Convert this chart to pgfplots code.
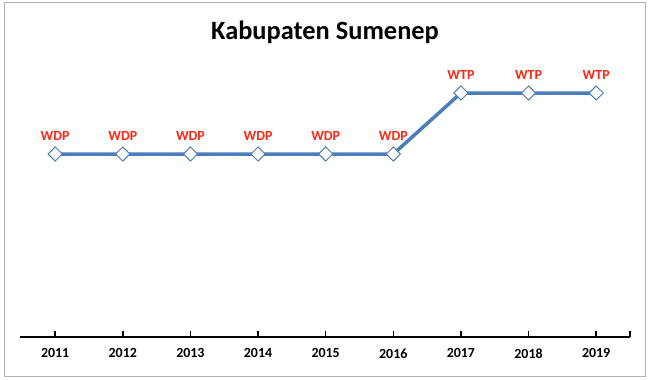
\documentclass[border=0pt]{standalone}
\usepackage{pgfplots}
\pgfplotsset{compat=1.18}
\usepackage{fontspec}
\setmainfont{Carlito}
\definecolor{lineblue}{RGB}{74,126,187}
\definecolor{lblred}{RGB}{255,40,20}
\begin{document}
\begin{tikzpicture}[x=1bp,y=1bp]
\fill[white] (0,0) rectangle (650,379);
\draw[black!30, line width=1bp] (4,3) rectangle (645,376);
\node[font=\bfseries\fontsize{26.5}{30}\selectfont] at (325,347) {Kabupaten Sumenep};
\begin{axis}[
 at={(20bp,42bp)}, anchor=south west,
 scale only axis, width=610bp, height=274.5bp,
 xmin=2010.48, xmax=2019.5, ymin=0, ymax=4.5,
 axis x line=bottom, axis y line=none,
 axis line style={-},
 x axis line style={black, line width=2.5bp},
 xtick={2011,...,2019},
 extra x ticks={2019.5}, extra x tick labels={},
 xtick align=inside,
 major tick length=6bp,
 tick style={black, line width=1.5bp},
 xticklabel style={font=\bfseries\fontsize{14}{16}\selectfont, yshift=-8bp},
 /pgf/number format/assume math mode=true,
 /pgf/number format/set thousands separator={},
 clip=false,
]
\addplot[lineblue, line width=3.5bp, mark=square*,
 mark options={rotate=45, fill=white, draw=lineblue, line width=1bp, mark size=5bp},
 nodes near coords, point meta=explicit symbolic,
 nodes near coords style={font=\bfseries\fontsize{14}{16}\selectfont, text=lblred, yshift=10bp}]
 table[meta=label] {
 x y label
 2011 3 WDP
 2012 3 WDP
 2013 3 WDP
 2014 3 WDP
 2015 3 WDP
 2016 3 WDP
 2017 4 WTP
 2018 4 WTP
 2019 4 WTP
 };
\end{axis}
\end{tikzpicture}
\end{document}
